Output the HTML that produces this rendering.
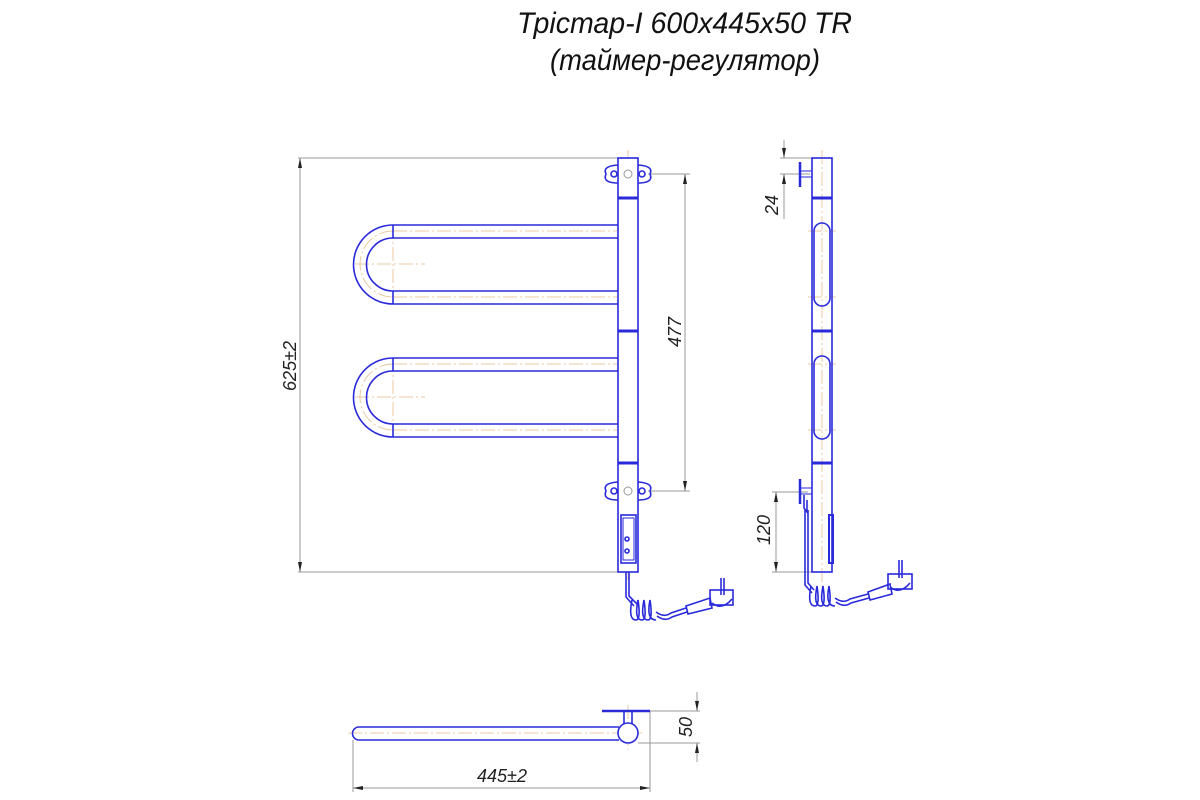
<!DOCTYPE html>
<html><head><meta charset="utf-8"><style>html,body{margin:0;padding:0;background:#fff}svg{display:block}</style></head>
<body>
<svg width="1200" height="800" viewBox="0 0 1200 800" xmlns="http://www.w3.org/2000/svg" font-family="Liberation Sans, sans-serif">
<defs>
<marker id="ar" viewBox="0 0 10 4" refX="10" refY="2" markerWidth="10" markerHeight="4" orient="auto-start-reverse" markerUnits="userSpaceOnUse"><path d="M0,0 L10,2 L0,4 z" fill="#222"/></marker>
</defs>
<!-- title -->
<g font-style="italic" fill="#111" font-size="30">
<text x="517" y="33" textLength="335" lengthAdjust="spacingAndGlyphs">Трістар-І 600х445х50  TR</text>
<text x="550" y="70" textLength="270" lengthAdjust="spacingAndGlyphs">(таймер-регулятор)</text>
</g>

<!-- FRONT VIEW dims -->
<g stroke="#999" stroke-width="1" fill="none">
<line x1="298" y1="158" x2="618" y2="158"/>
<line x1="298" y1="572" x2="618" y2="572"/>
<line x1="648" y1="174" x2="690" y2="174"/>
<line x1="648" y1="491" x2="690" y2="491"/>
</g>
<line x1="300" y1="158" x2="300" y2="572" stroke="#999" marker-start="url(#ar)" marker-end="url(#ar)"/>
<line x1="685" y1="174" x2="685" y2="491" stroke="#999" marker-start="url(#ar)" marker-end="url(#ar)"/>
<text transform="translate(296,366) rotate(-90)" font-style="italic" font-size="18" fill="#222" text-anchor="middle">625±2</text>
<text transform="translate(681,332) rotate(-90)" font-style="italic" font-size="18" fill="#222" text-anchor="middle">477</text>

<!-- centerlines front -->
<g stroke="#e8c9a0" stroke-width="1" stroke-dasharray="14,3,2,3" fill="none">
<line x1="628" y1="150" x2="628" y2="580"/>
<line x1="393" y1="231" x2="618" y2="231"/>
<line x1="393" y1="297" x2="618" y2="297"/>
<line x1="393" y1="364" x2="618" y2="364"/>
<line x1="393" y1="430" x2="618" y2="430"/>
<line x1="355" y1="264" x2="425" y2="264"/>
<line x1="355" y1="397" x2="425" y2="397"/>
<line x1="393" y1="225" x2="393" y2="304"/>
<line x1="393" y1="358" x2="393" y2="437"/>
<path d="M393,231 A33,33 0 0 0 393,297"/>
<path d="M393,364 A33,33 0 0 0 393,430"/>
</g>

<g stroke="#2a2adb" stroke-width="1.6" fill="none">
<path d="M618,225 L393,225 A39.5,39.5 0 0 0 393,304 L618,304"/>
<path d="M618,238 L393,238 A26.5,26.5 0 0 0 393,291 L618,291"/>
<line x1="393" y1="225" x2="393" y2="238"/><line x1="393" y1="291" x2="393" y2="304"/>
<path d="M618,358 L393,358 A39.5,39.5 0 0 0 393,437 L618,437"/>
<path d="M618,371 L393,371 A26.5,26.5 0 0 0 393,424 L618,424"/>
<line x1="393" y1="358" x2="393" y2="371"/><line x1="393" y1="424" x2="393" y2="437"/>
<rect x="618" y="158" width="20" height="414" fill="#fff"/>
<line x1="618" y1="198" x2="638" y2="198" stroke-width="3"/>
<line x1="618" y1="331" x2="638" y2="331" stroke-width="3"/>
<line x1="618" y1="463" x2="638" y2="463" stroke-width="3"/>
<path d="M618,165 Q602,166 606,174 Q602,183 618,183"/>
<path d="M638,165 Q654,166 650,174 Q654,183 638,183"/>
<circle cx="614" cy="174" r="3"/><circle cx="642" cy="174" r="3"/>
<path d="M618,482 Q602,483 606,491 Q602,500 618,500"/>
<path d="M638,482 Q654,483 650,491 Q654,500 638,500"/>
<circle cx="614" cy="491" r="3"/><circle cx="642" cy="491" r="3"/>
<rect x="621" y="515" width="15" height="48"/>
<rect x="623" y="518" width="11" height="42" stroke-width="1"/>
<circle cx="627" cy="539" r="2"/><circle cx="627" cy="551" r="2"/>
<path d="M626,572 L626,597 L634,606"/>
<path d="M629,572 L629,596 L637,604"/>
<path d="M632,600 q-4,20 4,20 q5,0 2,-20 q-4,20 4,20 q5,0 2,-20 q-4,20 4,20 q5,0 2,-20 q-4,20 6,20"/>
<path d="M656,612 q8,6 15,1 l15,-5 M657,616 q8,6 15,1 l15,-5"/>
<path d="M686,606 l24,-8 l2,10 l-24,6 z"/>
<rect x="710" y="590" width="23" height="15"/>
<path d="M712,603 q10,8 20,-4"/>
<line x1="721" y1="578" x2="721" y2="595"/><line x1="724" y1="578" x2="724" y2="595"/>
</g>
<g stroke="#999" fill="none"><circle cx="628" cy="174" r="4"/><circle cx="628" cy="491" r="4"/></g>

<!-- SIDE VIEW -->
<g stroke="#e8c9a0" stroke-width="1" stroke-dasharray="14,3,2,3">
<line x1="822" y1="150" x2="822" y2="590"/>
<line x1="808" y1="231" x2="836" y2="231"/><line x1="808" y1="297" x2="836" y2="297"/>
<line x1="808" y1="364" x2="836" y2="364"/><line x1="808" y1="430" x2="836" y2="430"/>
</g>
<g stroke="#999" fill="none">
<line x1="780" y1="158" x2="812" y2="158"/>
<line x1="780" y1="174" x2="810" y2="174"/>
<line x1="772" y1="492" x2="808" y2="492"/>
<line x1="772" y1="572" x2="812" y2="572"/>
</g>
<line x1="784" y1="140" x2="784" y2="158" stroke="#999" marker-end="url(#ar)"/>
<line x1="784" y1="219" x2="784" y2="174" stroke="#999" marker-end="url(#ar)"/>
<line x1="776" y1="492" x2="776" y2="572" stroke="#999" marker-start="url(#ar)" marker-end="url(#ar)"/>
<text transform="translate(778,205) rotate(-90)" font-style="italic" font-size="18" fill="#222" text-anchor="middle">24</text>
<text transform="translate(770,530) rotate(-90)" font-style="italic" font-size="18" fill="#222" text-anchor="middle">120</text>
<g stroke="#2a2adb" stroke-width="1.6" fill="none">
<rect x="812" y="158" width="20" height="414"/>
<line x1="812" y1="198" x2="832" y2="198" stroke-width="3"/>
<line x1="812" y1="331" x2="832" y2="331" stroke-width="3"/>
<line x1="812" y1="463" x2="832" y2="463" stroke-width="3"/>
<rect x="814" y="223" width="16" height="83" rx="8"/>
<rect x="814" y="356" width="16" height="83" rx="8"/>
<line x1="800" y1="162" x2="800" y2="187" stroke-width="2.5"/>
<line x1="800" y1="171" x2="812" y2="171" stroke-width="1"/><line x1="800" y1="177" x2="812" y2="177" stroke-width="1"/>
<line x1="800" y1="479" x2="800" y2="504" stroke-width="2.5"/>
<line x1="800" y1="488" x2="812" y2="488" stroke-width="1"/><line x1="800" y1="494" x2="812" y2="494" stroke-width="1"/>
<rect x="829" y="515" width="4" height="48" stroke-width="2"/>
<path d="M804,495 L804,508 L807,512 L807,500"/>
<path d="M805,510 L805,585 L812,593 M808,510 L808,583 L814,590"/>
<path d="M811,586 q-4,20 4,20 q5,0 2,-20 q-4,20 4,20 q5,0 2,-20 q-4,20 4,20 q5,0 2,-20 q-4,20 6,20"/>
<path d="M835,598 q8,6 15,1 l18,-5 M836,602 q8,6 15,1 l18,-5"/>
<path d="M868,592 l22,-8 l2,10 l-22,6 z"/>
<rect x="888" y="574" width="24" height="15"/>
<path d="M890,587 q10,8 20,-4"/>
<line x1="899" y1="560" x2="899" y2="578"/><line x1="902" y1="560" x2="902" y2="578"/>
</g>

<!-- TOP VIEW -->
<line x1="348" y1="733" x2="642" y2="733" stroke="#e8c9a0" stroke-dasharray="14,3,2,3"/>
<line x1="628" y1="705" x2="628" y2="750" stroke="#e8c9a0" stroke-dasharray="14,3,2,3"/>
<g stroke="#999" fill="none">
<line x1="650" y1="711" x2="700" y2="711"/>
<line x1="638" y1="743" x2="700" y2="743"/>
<line x1="353" y1="740" x2="353" y2="792"/>
<line x1="650" y1="711" x2="650" y2="792"/>
</g>
<line x1="697" y1="692" x2="697" y2="711" stroke="#999" marker-end="url(#ar)"/>
<line x1="697" y1="762" x2="697" y2="743" stroke="#999" marker-end="url(#ar)"/>
<line x1="353" y1="788" x2="650" y2="788" stroke="#999" marker-start="url(#ar)" marker-end="url(#ar)"/>
<text transform="translate(692,727) rotate(-90)" font-style="italic" font-size="18" fill="#222" text-anchor="middle">50</text>
<text x="502" y="782" font-style="italic" font-size="18" fill="#222" text-anchor="middle">445±2</text>
<g stroke="#2a2adb" stroke-width="1.6" fill="none">
<path d="M619,727 L359,727 A6.5,6.5 0 0 0 359,740 L619,740"/>
<line x1="602" y1="711" x2="650" y2="711" stroke-width="2.5"/>
<line x1="624" y1="711" x2="624" y2="724"/><line x1="632" y1="711" x2="632" y2="724"/>
<circle cx="628" cy="733" r="10" fill="#fff"/>
</g>
</svg>
</body></html>
